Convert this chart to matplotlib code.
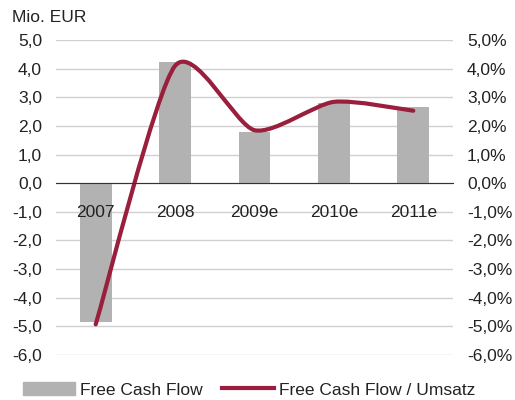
import numpy as np
import matplotlib.pyplot as plt
from matplotlib.path import Path
from matplotlib.patches import PathPatch, Patch
from matplotlib.lines import Line2D

plt.rcParams['font.family'] = ['Liberation Sans', 'DejaVu Sans']

years = ['2007', '2008', '2009e', '2010e', '2011e']
fcf = [-4.85, 4.24, 1.79, 2.8, 2.67]          # Mio. EUR
fcf_ratio = [-4.93, 4.1, 1.85, 2.84, 2.53]     # % of Umsatz

BAR_COLOR = '#b2b2b2'
LINE_COLOR = '#991f3d'
GRID_COLOR = '#d0d0d0'
TEXT_COLOR = '#222222'
FS = 12.5
SMOOTH = 0.12   # bezier tension for the smoothed line

fig = plt.figure(figsize=(5.15, 4.0), dpi=100)
ax = fig.add_axes([56/515, 45/400, 397/515, 315/400])
x = np.arange(len(years))

ax.bar(x, fcf, width=0.4, color=BAR_COLOR, zorder=2)

# smoothed line through the data points (cardinal bezier like Excel)
pts = np.column_stack([x, fcf_ratio]).astype(float)
ext = np.vstack([pts[0], pts, pts[-1]])
verts, codes = [tuple(pts[0])], [Path.MOVETO]
for i in range(len(pts) - 1):
    p0, p1, p2, p3 = ext[i], ext[i + 1], ext[i + 2], ext[i + 3]
    c1 = p1 + (p2 - p0) * SMOOTH
    c2 = p2 - (p3 - p1) * SMOOTH
    verts += [tuple(c1), tuple(c2), tuple(p2)]
    codes += [Path.CURVE4] * 3
ax.add_patch(PathPatch(Path(verts, codes), fill=False, edgecolor=LINE_COLOR,
                       lw=3, capstyle='round', zorder=3))

ax.set_xlim(-0.5, len(years) - 0.5)
ax.set_ylim(-6, 5)
ax.set_yticks(range(-6, 6))
ax.set_yticklabels([f'{v:.1f}'.replace('.', ',') for v in range(-6, 6)])
ax.tick_params(axis='y', length=0, pad=10, labelsize=FS, labelcolor=TEXT_COLOR)
ax.yaxis.grid(True, color=GRID_COLOR, lw=1)
ax.set_axisbelow(True)

ax.spines['bottom'].set_position(('data', 0))
ax.spines['bottom'].set_color('#333333')
ax.spines['bottom'].set_zorder(4)
for s in ['top', 'left', 'right']:
    ax.spines[s].set_visible(False)
ax.set_xticks([])
for xi, lab in zip(x, years):
    ax.annotate(lab, (xi, 0), xytext=(0, -21), textcoords='offset points',
                ha='center', va='center', fontsize=FS, color=TEXT_COLOR, zorder=5)

ax2 = ax.twinx()
ax2.set_ylim(-6, 5)
ax2.set_yticks(range(-6, 6))
ax2.set_yticklabels([f'{v:.1f}%'.replace('.', ',') for v in range(-6, 6)])
ax2.tick_params(axis='y', length=0, pad=10, labelsize=FS, labelcolor=TEXT_COLOR)
for s in ['top', 'left', 'right', 'bottom']:
    ax2.spines[s].set_visible(False)

fig.text(12/515, 1 - 17/400, 'Mio. EUR', fontsize=FS, color=TEXT_COLOR, va='center', ha='left')

handles = [Patch(color=BAR_COLOR), Line2D([], [], color=LINE_COLOR, lw=3)]
fig.legend(handles, ['Free Cash Flow', 'Free Cash Flow / Umsatz'], loc='center',
           bbox_to_anchor=(249/515, 1 - 390/400), ncol=2, frameon=False, fontsize=FS,
           handlelength=3.0, handleheight=0.7, handletextpad=0.3, columnspacing=1.1,
           labelcolor=TEXT_COLOR, borderpad=0, borderaxespad=0)

fig.savefig('out.png', dpi=100)
